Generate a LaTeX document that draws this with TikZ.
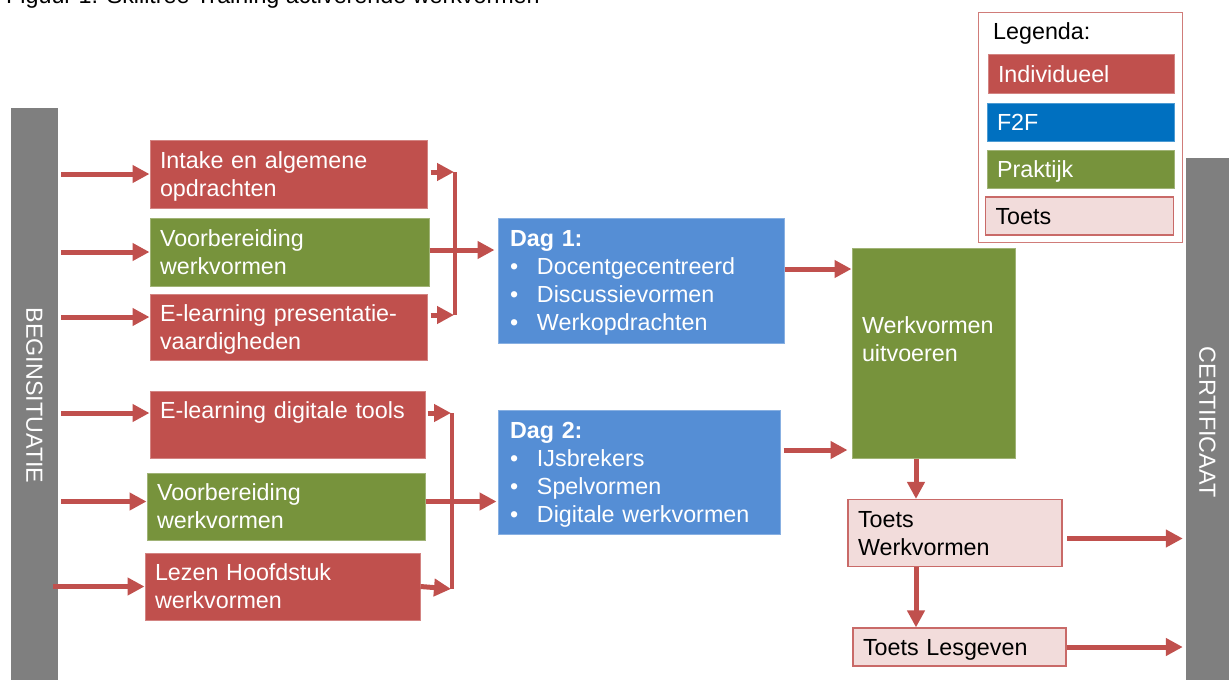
\documentclass[tikz,border=0pt]{standalone}
\usepackage{fontspec}
\setmainfont{Liberation Sans}
\usetikzlibrary{arrows.meta}
\definecolor{indivred}{HTML}{C0504D}
\definecolor{f2fblue}{HTML}{0070C0}
\definecolor{dagblue}{HTML}{558ED5}
\definecolor{praktgreen}{HTML}{77933C}
\definecolor{toetspink}{HTML}{F2DCDB}
\definecolor{bargray}{HTML}{7F7F7F}
\tikzstyle{boxtext} = [align=left, inner ysep=0pt, execute at begin node={\rule{0pt}{21.1pt}}, execute at end node={\rule[-4.9pt]{0pt}{4.9pt}}]
\tikzstyle{indiv} = [rectangle, boxtext, fill=indivred, draw=indivred!70!white, line width=1pt, text=white, inner xsep=10pt]
\tikzstyle{prakt} = [rectangle, boxtext, fill=praktgreen, draw=praktgreen!70!white, line width=1pt, text=white, inner xsep=10pt]
\tikzstyle{f2f} = [rectangle, boxtext, fill=dagblue, draw=dagblue!70!white, line width=1pt, text=white, inner xsep=12pt]
\tikzstyle{toets} = [rectangle, boxtext, fill=toetspink, draw=indivred!85, line width=1.2pt, text=black, inner xsep=10pt]
\tikzstyle{bar} = [rectangle, fill=bargray, draw=none, inner sep=0pt]
\tikzstyle{bartext} = [text=white, inner sep=0pt]
\tikzstyle{arrow} = [draw=indivred, line width=5pt, -{Triangle[length=17pt,width=17pt]}]
\tikzstyle{line} = [draw=indivred, line width=4pt]

\begin{document}
\begin{tikzpicture}[x=1pt, y=-1pt, font=\fontsize{23.3}{28}\selectfont]
\useasboundingbox (0,0) rectangle (1229,680);

%Title
\node (title) [anchor=base west, inner sep=0pt] at (6,3) {Figuur 1. Skilltree Training activerende werkvormen};

%Bars
\node (begin_bar) [bar, minimum width=47pt, minimum height=572pt] at (34.5,394) {};
\node (begin_label) [bartext, rotate=-90] at (34.5,395.5) {BEGINSITUATIE};
\node (cert_bar) [bar, minimum width=43pt, minimum height=522pt] at (1207.5,419) {};
\node (cert_label) [bartext, rotate=-90] at (1207.5,422) {CERTIFICAAT};

%Legend
\node (legend_box) [rectangle, draw=indivred!75, line width=1.2pt, fill=white, minimum width=204pt, minimum height=230pt] at (1080.5,127.5) {};
\node (legend_title) [anchor=base west, inner sep=0pt] at (993,39.5) {Legenda:};
\node (legend_indiv) [indiv, text width=166pt, minimum height=39pt] at (1081,74) {Individueel};
\node (legend_f2f) [f2f, fill=f2fblue, draw=f2fblue!70!white, inner xsep=10pt, text width=167pt, minimum height=38pt] at (1080.5,122) {F2F};
\node (legend_prakt) [prakt, text width=167pt, minimum height=38pt] at (1080.5,169) {Praktijk};
\node (legend_toets) [toets, text width=168pt, minimum height=38pt] at (1079.5,216) {Toets};

%Dag 1 input
\node (intake_box) [indiv, text width=257pt, minimum height=68pt] at (288.5,174) {Intake en algemene\\opdrachten};
\node (voorb1_box) [prakt, text width=259pt, minimum height=68pt] at (289.5,252) {Voorbereiding\\werkvormen};
\node (epres_box) [indiv, text width=257pt, minimum height=66pt] at (288.5,327) {E-learning presentatie-\\vaardigheden};

%Dag 2 input
\node (tools_box) [indiv, text width=255pt, minimum height=67pt] at (287.5,424.5) {E-learning digitale tools\\ \mbox{}};
\node (voorb2_box) [prakt, text width=258pt, minimum height=67pt] at (286,506.5) {Voorbereiding\\werkvormen};
\node (lezen_box) [indiv, text width=255pt, minimum height=67pt] at (282.5,586.5) {Lezen Hoofdstuk\\werkvormen};

%Dagen
\node (dag1_box) [f2f, text width=262pt, minimum height=125pt] at (641,280.5) {\textbf{Dag 1:}\\\makebox[27pt][l]{\textbullet}Docentgecentreerd\\\makebox[27pt][l]{\textbullet}Discussievormen\\\makebox[27pt][l]{\textbullet}Werkopdrachten};
\node (dag2_box) [f2f, text width=258pt, minimum height=124pt] at (639,472) {\textbf{Dag 2:}\\\makebox[27pt][l]{\textbullet}IJsbrekers\\\makebox[27pt][l]{\textbullet}Spelvormen\\\makebox[27pt][l]{\textbullet}Digitale werkvormen};

%Praktijk en toetsen
\node (werk_box) [prakt, text width=143pt, minimum height=210pt] at (933.5,353) {Werkvormen\\uitvoeren\\ \mbox{}};
\node (toetswv_box) [toets, text width=194pt, minimum height=67pt] at (955,533) {Toets\\Werkvormen};
\node (lesgeven_box) [toets, text width=193pt, minimum height=38pt] at (959.5,647) {Toets Lesgeven};

%Brackets
\coordinate (br1_top) at (455,172);
\coordinate (br1_bot) at (455,315);
\coordinate (br2_top) at (452,413);
\coordinate (br2_bot) at (452,589);
\coordinate (epres_in) at ([yshift=10pt]epres_box.west);
\coordinate (tools_in) at ([yshift=11.5pt]tools_box.west);
\coordinate (voorb2_in) at ([yshift=5pt]voorb2_box.west);

%Arrows from beginsituatie
\draw [arrow, shorten <=3pt] (begin_bar.east |- intake_box.west) -- (intake_box.west);
\draw [arrow, shorten <=3pt] (begin_bar.east |- voorb1_box.west) -- (voorb1_box.west);
\draw [arrow, shorten <=3pt] (begin_bar.east |- epres_in) -- (epres_in);
\draw [arrow, shorten <=3pt] (begin_bar.east |- tools_in) -- (tools_in);
\draw [arrow, shorten <=3pt] (begin_bar.east |- voorb2_in) -- (voorb2_in);
\draw [arrow, shorten <=-5pt] (begin_bar.east |- lezen_box.west) -- (lezen_box.west);

%Bracket Dag 1
\draw [line] (br1_top) -- (br1_bot);
\draw [arrow, shorten <=3pt, shorten >=1pt] (intake_box.east |- br1_top) -- (br1_top);
\draw [arrow, shorten <=3pt, shorten >=1pt] (epres_box.east |- br1_bot) -- (br1_bot);
\draw [arrow, shorten >=3pt] ([yshift=2pt]voorb1_box.east) -- ([yshift=2pt]voorb1_box.east -| dag1_box.west);

%Bracket Dag 2
\draw [line] (br2_top) -- (br2_bot);
\draw [arrow, shorten <=2pt, shorten >=1pt] (tools_box.east |- br2_top) -- (br2_top);
\draw [arrow, shorten >=1pt] (lezen_box.east) -- (br2_bot);
\draw [arrow, shorten >=1pt] ([yshift=5pt]voorb2_box.east) -- ([yshift=5pt]voorb2_box.east -| dag2_box.west);

%Dagen naar praktijk
\draw [arrow] ([yshift=11.5pt]dag1_box.east) -- ([yshift=11.5pt]dag1_box.east -| werk_box.west);
\draw [arrow, shorten <=3pt, shorten >=4pt] ([yshift=22pt]dag2_box.east) -- ([yshift=22pt]dag2_box.east -| werk_box.west);

%Toetsen
\draw [arrow] ([xshift=-17.5pt]werk_box.south) -- ([xshift=-17.5pt]werk_box.south |- toetswv_box.north);
\draw [arrow] ([xshift=-39pt]toetswv_box.south) -- ([xshift=-39pt]toetswv_box.south |- lesgeven_box.north);
\draw [arrow, shorten <=4.5pt, shorten >=3pt] ([yshift=-5.5pt]toetswv_box.east) -- ([yshift=-5.5pt]toetswv_box.east -| cert_bar.west);
\draw [arrow, shorten >=3pt] (lesgeven_box.east) -- (lesgeven_box.east -| cert_bar.west);

\end{tikzpicture}
\end{document}
